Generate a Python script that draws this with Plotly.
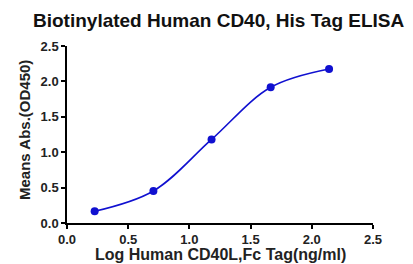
import plotly.graph_objects as go

log_conc = [0.226, 0.706, 1.181, 1.664, 2.141]
od450 = [0.165, 0.452, 1.18, 1.917, 2.176]
ticks = [0.0, 0.5, 1.0, 1.5, 2.0, 2.5]
tick_text = ["<b>0.0</b>", "<b>0.5</b>", "<b>1.0</b>", "<b>1.5</b>", "<b>2.0</b>", "<b>2.5</b>"]

blue = "#1010D0"
fnt = "Liberation Sans, Arial"
# page body has an 8px default margin, so the figure is 8px smaller and offset
W, H = 405, 256
L, R, T, B = 59, 40, 38, 41
PW, PH = W - L - R, H - T - B


def px(fx):
    return (fx - L) / PW


def py(fy):
    return (H - B - fy) / PH


fig = go.Figure()
fig.add_trace(go.Scatter(
    x=log_conc, y=od450, mode="lines+markers",
    line=dict(color=blue, width=1.6, shape="spline", smoothing=1.0),
    marker=dict(color=blue, size=8),
    showlegend=False,
))

axis_common = dict(
    showline=True, linecolor="black", linewidth=1.5,
    ticks="outside", ticklen=4, tickwidth=1.5, tickcolor="black",
    showgrid=False, zeroline=False, range=[0, 2.5],
    tickvals=ticks, ticktext=tick_text, automargin=False,
    tickfont=dict(family=fnt, size=13, color="#222"),
)

fig.update_layout(
    width=W, height=H,
    margin=dict(l=L, r=R, t=T, b=B),
    paper_bgcolor="white", plot_bgcolor="white",
    xaxis=dict(**axis_common),
    yaxis=dict(**axis_common),
    annotations=[
        dict(text="<b>Biotinylated Human CD40, His Tag ELISA</b>",
             xref="paper", yref="paper", x=px(211), y=py(12),
             xanchor="center", yanchor="middle", showarrow=False,
             font=dict(family=fnt, size=19, color="#111")),
        dict(text="<b>Log Human CD40L,Fc Tag(ng/ml)</b>",
             xref="paper", yref="paper", x=px(212), y=py(246),
             xanchor="center", yanchor="middle", showarrow=False,
             font=dict(family=fnt, size=16, color="#222")),
        dict(text="<b>Means Abs.(OD450)</b>", textangle=-90,
             xref="paper", yref="paper", x=px(17), y=py(122),
             xanchor="center", yanchor="middle", showarrow=False,
             font=dict(family=fnt, size=15, color="#222")),
    ],
)

fig.write_html("out.html")
